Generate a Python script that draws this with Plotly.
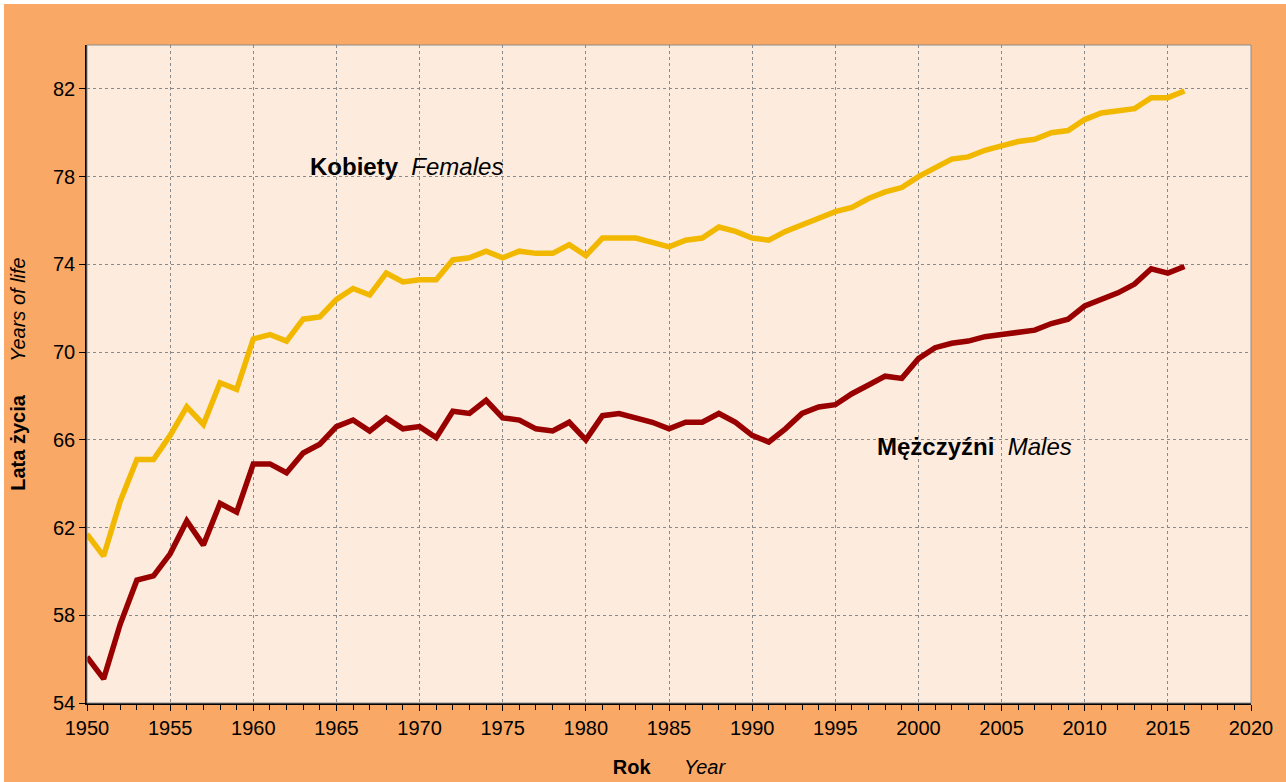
import plotly.graph_objects as go

# Dane: przeciętne dalsze trwanie życia noworodka (lata)
lata = list(range(1950, 2017))

kobiety = [
    61.7, 60.7, 63.2, 65.1, 65.1, 66.2, 67.5, 66.7, 68.6, 68.3,
    70.6, 70.8, 70.5, 71.5, 71.6, 72.4, 72.9, 72.6, 73.6, 73.2,
    73.3, 73.3, 74.2, 74.3, 74.6, 74.3, 74.6, 74.5, 74.5, 74.9,
    74.4, 75.2, 75.2, 75.2, 75.0, 74.8, 75.1, 75.2, 75.7, 75.5,
    75.2, 75.1, 75.5, 75.8, 76.1, 76.4, 76.6, 77.0, 77.3, 77.5,
    78.0, 78.4, 78.8, 78.9, 79.2, 79.4, 79.6, 79.7, 80.0, 80.1,
    80.6, 80.9, 81.0, 81.1, 81.6, 81.6, 81.9,
]

mezczyzni = [
    56.1, 55.1, 57.6, 59.6, 59.8, 60.8, 62.3, 61.2, 63.1, 62.7,
    64.9, 64.9, 64.5, 65.4, 65.8, 66.6, 66.9, 66.4, 67.0, 66.5,
    66.6, 66.1, 67.3, 67.2, 67.8, 67.0, 66.9, 66.5, 66.4, 66.8,
    66.0, 67.1, 67.2, 67.0, 66.8, 66.5, 66.8, 66.8, 67.2, 66.8,
    66.2, 65.9, 66.5, 67.2, 67.5, 67.6, 68.1, 68.5, 68.9, 68.8,
    69.7, 70.2, 70.4, 70.5, 70.7, 70.8, 70.9, 71.0, 71.3, 71.5,
    72.1, 72.4, 72.7, 73.1, 73.8, 73.6, 73.9,
]

x_ticki = list(range(1950, 2021, 5))
y_ticki = list(range(54, 83, 4))

POMARANCZ = "#F9A865"
TLO = "#FDEBDD"
ZLOTY = "#F2B800"
BORDO = "#990000"
FONT = "Liberation Sans, Arial, sans-serif"

# rozmiar obszaru wykresu w pikselach (do białych pasków na krawędzi)
SZER, WYS = 1164, 658
L, R, T, B = 87, 39, 45, 83

fig = go.Figure()
fig.add_trace(go.Scatter(x=lata, y=kobiety, mode="lines",
                         line=dict(color=ZLOTY, width=5.5), name="Kobiety"))
fig.add_trace(go.Scatter(x=lata, y=mezczyzni, mode="lines",
                         line=dict(color=BORDO, width=5.5), name="Mężczyźni"))

fig.add_annotation(x=1963.3, y=78.45, xanchor="left", yanchor="middle",
                   text="<b>Kobiety</b>\u00a0\u00a0<i>Females</i>",
                   showarrow=False, font=dict(size=24, color="black", family=FONT))
fig.add_annotation(x=1997.4, y=65.7, xanchor="left", yanchor="middle",
                   text="<b>Mężczyźni</b>\u00a0\u00a0<i>Males</i>",
                   showarrow=False, font=dict(size=24, color="black", family=FONT))

# biały pasek u góry i z lewej, szara ramka obszaru wykresu
fig.add_shape(type="rect", xref="paper", yref="paper",
              x0=-L / SZER, x1=(4 - L) / SZER, y0=-B / WYS, y1=(WYS + T) / WYS,
              fillcolor="white", line=dict(width=0), layer="below")
fig.add_shape(type="rect", xref="paper", yref="paper",
              x0=-L / SZER, x1=(SZER + R) / SZER, y0=(WYS + T - 4) / WYS, y1=(WYS + T) / WYS,
              fillcolor="white", line=dict(width=0), layer="below")
fig.add_shape(type="rect", xref="paper", yref="paper", x0=0, x1=1, y0=0, y1=1,
              line=dict(color="#8C8C8C", width=1), layer="above")

fig.update_xaxes(
    range=[1950, 2020], tickvals=x_ticki, ticks="outside", ticklen=6,
    tickcolor="black", showline=True, linecolor="black", linewidth=1.5,
    showgrid=True, gridcolor="#8A8A8A", griddash="dot", gridwidth=1,
    zeroline=False, automargin=False,
    tickfont=dict(size=20, color="black", family=FONT),
    minor=dict(dtick=1, ticks="outside", ticklen=5, tickcolor="black", showgrid=False),
    title=dict(text="<b>Rok</b>\u00a0\u00a0\u00a0\u00a0\u00a0\u00a0<i>Year</i>",
               font=dict(size=20, color="black", family=FONT), standoff=22),
)
fig.update_yaxes(
    range=[54, 84], tickvals=y_ticki, ticks="outside", ticklen=6,
    tickcolor="black", showline=True, linecolor="black", linewidth=1.5,
    showgrid=True, gridcolor="#8A8A8A", griddash="dot", gridwidth=1,
    zeroline=False, automargin=False,
    tickfont=dict(size=20, color="black", family=FONT),
    title=dict(text="<b>Lata życia</b>\u00a0\u00a0\u00a0\u00a0\u00a0\u00a0<i>Years of life</i>",
               font=dict(size=20, color="black", family=FONT), standoff=22),
)

fig.update_layout(
    width=L + SZER + R, height=T + WYS + B,
    margin=dict(l=L, r=R, t=T, b=B),
    paper_bgcolor=POMARANCZ, plot_bgcolor=TLO,
    showlegend=False,
)

fig.write_html(
    "out.html",
    config={"displayModeBar": False},
    post_script="document.body.style.margin='0';"
                "document.body.style.overflow='hidden';"
                "document.body.style.background='" + POMARANCZ + "';"
                "document.documentElement.style.background='" + POMARANCZ + "';",
)
